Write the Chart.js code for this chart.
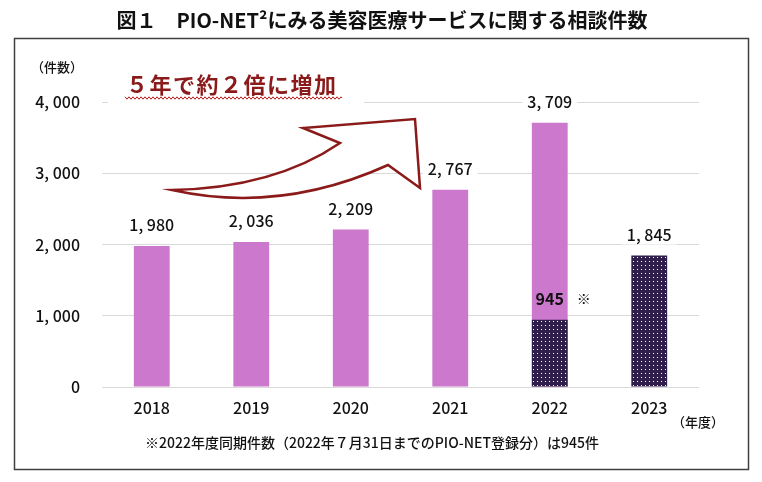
<!DOCTYPE html>
<html lang="ja">
<head>
<meta charset="utf-8">
<script src="https://cdn.jsdelivr.net/npm/chart.js@4.4.1/dist/chart.umd.min.js"></script>
<style>
  html, body { margin: 0; padding: 0; background: #fff; }
  #wrap { width: 762px; height: 482px; }
</style>
</head>
<body>
<div id="wrap"><canvas id="chart" width="762" height="482"></canvas></div>
<script>
// ===== Data =====
const years = ['2018', '2019', '2020', '2021', '2022', '2023'];
const fullYearCounts = [1980, 2036, 2209, 2767, 3709, null];
const samePeriodCounts = [null, null, null, null, 945, 1845]; // up to Jul 31
const yTicks = [0, 1000, 2000, 3000, 4000];

const titleText = '図１　PIO-NET²にみる美容医療サービスに関する相談件数';
const noteText = '※2022年度同期件数（2022年７月31日までのPIO-NET登録分）は945件';
const calloutText = '５年で約２倍に増加';

const FONT = '"Noto Sans CJK JP", "Noto Sans", sans-serif';
const PINK = '#cc78cc';
const DARK_RED = '#8b1a1a';

// dotted fill for the partial-year bars
function makeDots() {
    const c = document.createElement('canvas');
    c.width = 4; c.height = 4;
    const g = c.getContext('2d');
    g.fillStyle = '#2f1d4c';
    g.fillRect(0, 0, 4, 4);
    g.fillStyle = '#ffffff';
    g.fillRect(1, 1, 1, 1);
    return g.createPattern(c, 'repeat');
}

function fmt(n) {
    return n.toLocaleString('en-US').replace(/,/g, ', ');
}

// ===== Frame, title, notes, callout arrow =====
const decorPlugin = {
    id: 'decor',
    beforeDraw(chart) {
        const ctx = chart.ctx;
        ctx.save();
        ctx.fillStyle = '#fff';
        ctx.fillRect(0, 0, chart.width, chart.height);
        ctx.strokeStyle = '#404040';
        ctx.lineWidth = 1.5;
        ctx.strokeRect(14.5, 38.5, 734, 431);

        ctx.fillStyle = '#111';
        ctx.font = 'bold 20px ' + FONT;
        ctx.textAlign = 'center';
        ctx.textBaseline = 'middle';
        ctx.fillText(titleText, 382, 20);

        ctx.font = '500 13px ' + FONT;
        ctx.textAlign = 'left';
        ctx.fillText('（件数）', 31, 67);
        ctx.textAlign = 'right';
        ctx.fillText('（年度）', 724, 422);
        ctx.textAlign = 'left';
        ctx.font = '500 14px ' + FONT;
        ctx.fillText(noteText, 145, 443);
        ctx.restore();
    },
    afterDraw(chart) {
        const ctx = chart.ctx;
        const a = chart.chartArea;
        const ox = a.left, oy = a.top;
        ctx.save();

        // curved arrow
        ctx.beginPath();
        ctx.moveTo(ox + 70, oy + 88);
        ctx.quadraticCurveTo(ox + 172, oy + 86, ox + 238, oy + 41);
        ctx.lineTo(ox + 201, oy + 26);
        ctx.lineTo(ox + 313, oy + 17);
        ctx.lineTo(ox + 318, oy + 86);
        ctx.lineTo(ox + 286, oy + 63);
        ctx.quadraticCurveTo(ox + 178, oy + 112, ox + 70, oy + 88);
        ctx.closePath();
        ctx.fillStyle = '#fff';
        ctx.fill();
        ctx.strokeStyle = DARK_RED;
        ctx.lineWidth = 2.5;
        ctx.lineJoin = 'miter';
        ctx.stroke();

        // callout text with white box over the gridline
        ctx.fillStyle = '#fff';
        ctx.fillRect(ox + 6, oy - 32, 256, 36);
        ctx.font = 'bold 22px ' + FONT;
        ctx.letterSpacing = '1.5px';
        ctx.fillStyle = DARK_RED;
        ctx.textAlign = 'left';
        ctx.textBaseline = 'middle';
        ctx.fillText(calloutText, ox + 24, oy - 17);
        ctx.letterSpacing = '0px';

        // wavy underline
        ctx.beginPath();
        ctx.strokeStyle = '#c01818';
        ctx.lineWidth = 1;
        const y0 = oy - 4;
        for (let x = ox + 23; x <= ox + 240; x += 1) {
            const y = y0 + 1.2 * Math.sin((x - ox) * Math.PI / 2);
            if (x === ox + 23) ctx.moveTo(x, y); else ctx.lineTo(x, y);
        }
        ctx.stroke();
        ctx.restore();
    }
};

// ===== Value labels =====
const labelPlugin = {
    id: 'valueLabels',
    afterDatasetsDraw(chart) {
        const ctx = chart.ctx;
        const xs = chart.scales.x, ys = chart.scales.y;
        ctx.save();
        ctx.font = '500 16px ' + FONT;
        ctx.textAlign = 'center';
        ctx.textBaseline = 'middle';
        years.forEach((yr, i) => {
            const full = fullYearCounts[i];
            const part = samePeriodCounts[i];
            const x = xs.getPixelForValue(i);
            const top = full != null ? full : part;
            const txt = fmt(top);
            const y = ys.getPixelForValue(top) - 21;
            const w = ctx.measureText(txt).width + 10;
            ctx.fillStyle = '#fff';
            ctx.fillRect(x - w / 2, y - 10, w, 20);
            ctx.fillStyle = '#111';
            ctx.fillText(txt, x, y);
            if (full != null && part != null) {
                const py = ys.getPixelForValue(part) - 21;
                ctx.font = '600 16px ' + FONT;
                ctx.fillText(fmt(part), x, py);
                ctx.font = '14px ' + FONT;
                ctx.fillText('※', x + 34, py);
                ctx.font = '500 16px ' + FONT;
            }
        });
        ctx.restore();
    }
};

const ctx = document.getElementById('chart').getContext('2d');
new Chart(ctx, {
    type: 'bar',
    data: {
        labels: years,
        datasets: [
            {
                label: '同期件数',
                data: samePeriodCounts,
                backgroundColor: makeDots(),
                grouped: false,
                order: 0
            },
            {
                label: '相談件数',
                data: fullYearCounts,
                backgroundColor: PINK,
                grouped: false,
                order: 1
            }
        ]
    },
    options: {
        responsive: false,
        animation: false,
        events: [],
        categoryPercentage: 1,
        barPercentage: 0.36,
        layout: { padding: { left: 0, right: 63, top: 102, bottom: 55 } },
        plugins: {
            legend: { display: false },
            title: { display: false },
            tooltip: { enabled: false }
        },
        scales: {
            x: {
                grid: { display: false },
                border: { display: false },
                ticks: { color: '#111', font: { family: FONT, size: 16, weight: '500' }, padding: 3 },
                afterFit(scale) { scale.height = 40; }
            },
            y: {
                min: 0,
                max: 4000,
                afterBuildTicks(scale) { scale.ticks = yTicks.map(v => ({ value: v })); },
                grid: { color: '#d9d9d9', lineWidth: 1, drawTicks: false },
                border: { display: false },
                ticks: {
                    color: '#111',
                    font: { family: FONT, size: 16, weight: '500' },
                    padding: 22,
                    callback: v => fmt(v)
                },
                afterFit(scale) { scale.width = 102; }
            }
        }
    },
    plugins: [decorPlugin, labelPlugin]
});
</script>
</body>
</html>
